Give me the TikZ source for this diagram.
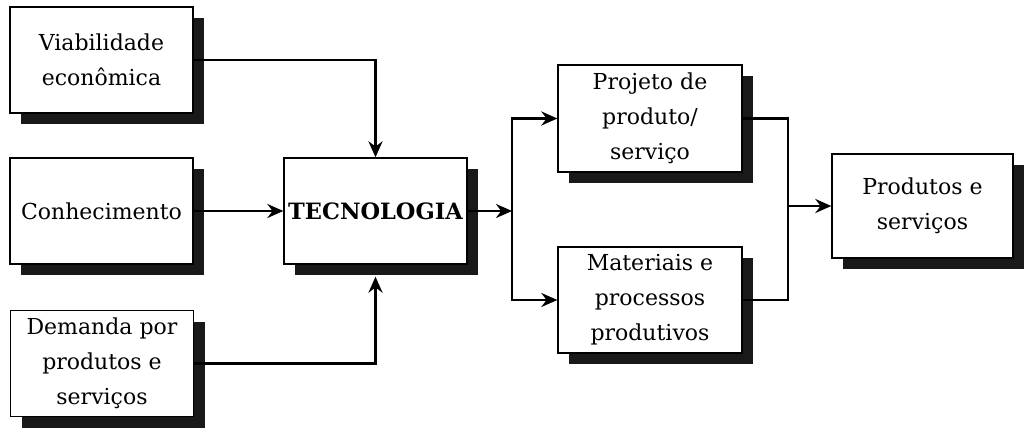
\documentclass[tikz,border=0pt]{standalone}
\usepackage{fontspec}
\setmainfont{DejaVu Serif}
\usetikzlibrary{arrows.meta,shadows}
\begin{document}
\begin{tikzpicture}[x=1pt,y=-1pt,
  box/.style={draw=black,line width=1.3pt,fill=white,align=center,inner sep=0pt,
    minimum width=183pt,minimum height=106pt,
    font=\fontsize{22}{35}\selectfont,
    drop shadow={shadow xshift=11pt,shadow yshift=-11pt,fill=black!90,opacity=1}},
  conn/.style={line width=2.8pt},
  arr/.style={conn,-{Stealth[length=16pt,width=14pt]}}]
\useasboundingbox (0,0) rectangle (1026,428);
% boxes
\node[box] (via) at (101.5,60) {Viabilidade\\econômica};
\node[box] (con) at (101.5,211) {Conhecimento};
\node[box] (dem) at (102,363.5) {Demanda por\\produtos e\\serviços};
\node[box,font=\fontsize{22.5}{30}\selectfont\bfseries] (tec) at (375.5,211) {TECNOLOGIA};
\node[box,minimum width=184pt,minimum height=107pt] (proj) at (650,118.5) {Projeto de\\produto/\\serviço};
\node[box,minimum width=184pt] (mat) at (650,300) {Materiais e\\processos\\produtivos};
\node[box,minimum width=181pt,minimum height=104pt] (prod) at (922.5,206) {Produtos e\\serviços};
% branch points
\coordinate (b1) at (512,211);
\coordinate (b2) at (788,206);
% connectors
\draw[arr] (via.east) -| (tec.north);
\draw[arr] (con.east) -- (tec.west);
\draw[arr] (dem.east) -| ([yshift=-12pt]tec.south);
\draw[arr] (tec.east) -- (b1);
\draw[arr] (b1) |- (proj.west);
\draw[arr] (b1) |- (mat.west);
\draw[conn] (proj.east) -| (b2);
\draw[conn] (mat.east) -| (b2);
\draw[arr] (b2) -- (prod.west);
\end{tikzpicture}
\end{document}
